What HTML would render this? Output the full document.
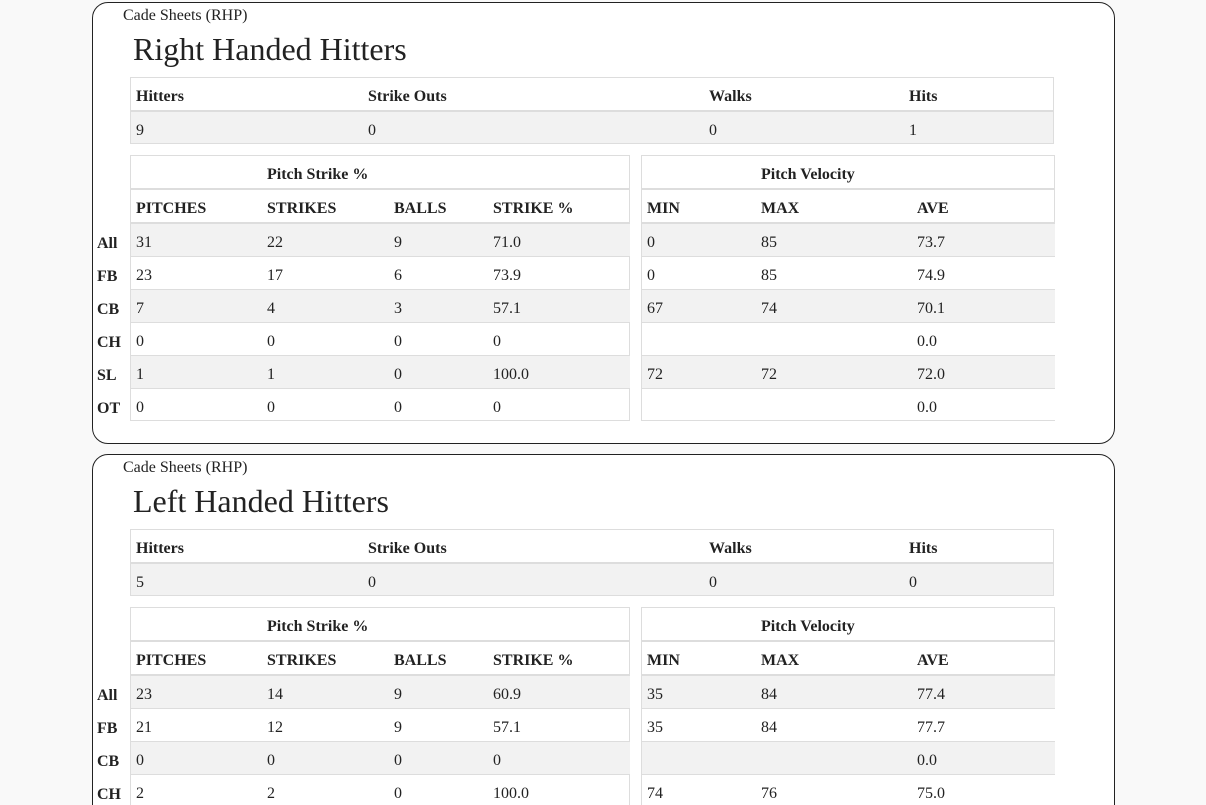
<!DOCTYPE html>
<html><head><meta charset="utf-8">
<style>
html{width:1206px;height:805px;overflow:hidden}
body{margin:0;width:1206px;height:805px;overflow:hidden;background:#f9f9f9;font-family:"Liberation Serif",serif;color:#222;position:relative}
.card{position:absolute;left:92px;width:1023px;background:#fff;border:1px solid #222;border-radius:16px;box-sizing:border-box}
.abs{position:absolute;white-space:nowrap}
.cell{position:absolute;box-sizing:border-box;font-size:16px;line-height:33px;padding-top:2px;padding-left:6px;white-space:nowrap}
.b{font-weight:bold}
</style></head><body>
<script>
const rhhSummary=["9","0","0","1"];
const lhhSummary=["5","0","0","0"];
const rowLabels=["All","FB","CB","CH","SL","OT"];
const rhhStrike=[["31","22","9","71.0"],["23","17","6","73.9"],["7","4","3","57.1"],["0","0","0","0"],["1","1","0","100.0"],["0","0","0","0"]];
const rhhVelo=[["0","85","73.7"],["0","85","74.9"],["67","74","70.1"],["","","0.0"],["72","72","72.0"],["","","0.0"]];
const lhhStrike=[["23","14","9","60.9"],["21","12","9","57.1"],["0","0","0","0"],["2","2","0","100.0"]];
const lhhVelo=[["35","84","77.4"],["35","84","77.7"],["","","0.0"],["74","76","75.0"]];

function div(cls,x,y,w,h,txt,style){
  const d=document.createElement('div');d.className=cls;
  d.style.left=x+'px';d.style.top=y+'px';
  if(w!=null)d.style.width=w+'px';if(h!=null)d.style.height=h+'px';
  if(txt!=null)d.textContent=txt;if(style)d.style.cssText+=style;
  document.body.appendChild(d);return d;
}
function section(oy,title,summary,strike,velo,pfx,ch){
  const c=div('card',92,oy,1023,ch,null);
  
  
  let t=div('abs',123,oy+5,null,null,'Cade Sheets (RHP)','font-size:16px');
  
  
  t=div('abs',133,oy+29,null,null,title,'font-size:32px');
  
  
  const sx=[130,362,703,903,1054];
  const sh=["Hitters","Strike Outs","Walks","Hits"];
  let box=div('abs',130,oy+75,924,67,null,'border:1px solid #ddd;box-sizing:border-box');
  
  
  div('abs',130,oy+108,924,34,null,'background:#f2f2f2;border:1px solid #ddd;border-top:2px solid #ddd;box-sizing:border-box');
  for(let i=0;i<4;i++){
    let e=div('cell b',sx[i],oy+76,sx[i+1]-sx[i],33,sh[i]);
    
    
    e=div('cell',sx[i],oy+110,sx[i+1]-sx[i],33,summary[i]);
    
    
  }
  const tables=[{x:130,w:500,cols:[130,261,388,487],hdr:["PITCHES","STRIKES","BALLS","STRIKE %"],title:"Pitch Strike %",tx:267,data:strike,n:'strike',rb:true},
                {x:641,w:414,cols:[641,755,911],hdr:["MIN","MAX","AVE"],title:"Pitch Velocity",tx:761,data:velo,n:'velocity',rb:false}];
  tables.forEach(tb=>{
    const th=68+tb.data.length*33;
    let f=div('abs',tb.x,oy+153,tb.w,th,null,'border:1px solid #ddd;box-sizing:border-box;'+(tb.rb?'':'border-right:none'));
    
    
    if(!tb.rb)div('abs',tb.x+tb.w-1,oy+153,1,69,null,'background:#ddd');
    let e=div('cell b',tb.tx-6,oy+154,200,33,tb.title);
    
    
    div('abs',tb.x,oy+186,tb.w,2,null,'background:#ddd');
    div('abs',tb.x,oy+220,tb.w,2,null,'background:#ddd');
    tb.hdr.forEach((h,i)=>{
      e=div('cell b',tb.cols[i],oy+188,120,33,h);
      
      
    });
    tb.data.forEach((row,r)=>{
      const y=oy+222+r*33;
      if(r%2==0)div('abs',tb.x+1,y,tb.w-1,32,null,'background:#f2f2f2');
      if(r>0)div('abs',tb.x,y-1,tb.w,1,null,'background:#ddd');
      row.forEach((v,i)=>{
        e=div('cell',tb.cols[i],y,120,33,v);
        
        
      });
    });
  });
  strike.forEach((_,r)=>{
    const e=div('cell b',92,oy+223+r*33,38,33,rowLabels[r],'padding-left:5px');
    
    
  });
}
section(2,"Right Handed Hitters",rhhSummary,rhhStrike,rhhVelo,'rhh',442);
section(454,"Left Handed Hitters",lhhSummary,lhhStrike,lhhVelo,'lhh',400);
</script>
</body></html>
